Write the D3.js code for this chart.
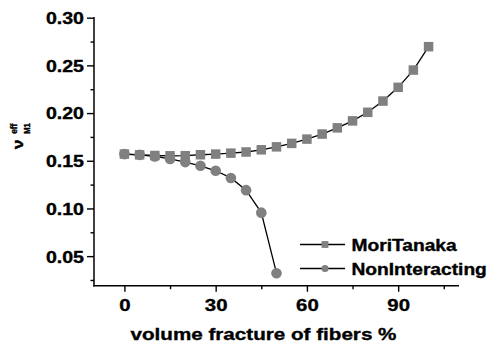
<!DOCTYPE html>
<html>
<head>
<meta charset="utf-8">
<script src="https://cdn.jsdelivr.net/npm/d3@7"></script>
<style>
  html, body { margin: 0; padding: 0; background: #fff; }
  svg text { font-family: "Liberation Sans", Arial, sans-serif; font-weight: bold; fill: #000; stroke: #000; stroke-width: 0.35px; }
</style>
</head>
<body>
<svg id="chart" width="490" height="346"></svg>
<script>
// ---- data ----
const fraction = [0, 5, 10, 15, 20, 25, 30, 35, 40, 45, 50, 55, 60, 65, 70, 75, 80, 85, 90, 95, 100];
const moriTanaka = [0.1570, 0.1562, 0.1555, 0.1552, 0.1553, 0.1563, 0.1570, 0.1580, 0.1592, 0.1615, 0.1646,
                    0.1682, 0.1727, 0.1780, 0.1845, 0.1918, 0.2008, 0.2126, 0.2270, 0.2451, 0.2696];
const fractionNI = [0, 5, 10, 15, 20, 25, 30, 35, 40, 45, 50];
const nonInteracting = [0.1570, 0.1562, 0.1545, 0.1519, 0.1486, 0.1447, 0.1395, 0.1320, 0.1192, 0.0956, 0.0321];
const xTicks = [0, 30, 60, 90];
const xMinorTicks = [15, 45, 75, 105];
const yTicks = [0.05, 0.10, 0.15, 0.20, 0.25, 0.30];
const yMinorTicks = [0.025, 0.075, 0.125, 0.175, 0.225, 0.275];
const seriesNames = ["MoriTanaka", "NonInteracting"];

// ---- layout ----
const SX = 1.2; // horizontal glyph stretch seen in the reference
const svg = d3.select("#chart");
const pLeft = 94, pRight = 459, pTop = 17.7, pBottom = 285.7;
const x = d3.scaleLinear().domain([-10, 110]).range([pLeft, pRight]);
const y = d3.scaleLinear().domain([0.019, 0.30]).range([pBottom, pTop]);
const grey = "#808080";

function stretch(sel) {
  sel.each(function () {
    const t = d3.select(this);
    const tx = +t.attr("x") || 0;
    t.attr("transform", `translate(${tx},0) scale(${SX},1) translate(${-tx},0)`);
  });
}

// ---- axes ----
const yAxis = svg.append("g").attr("transform", `translate(${pLeft},0)`)
  .call(d3.axisLeft(y).tickValues(yTicks).tickSize(7).tickPadding(3).tickFormat(d3.format(".2f")));
const yMinor = svg.append("g").attr("transform", `translate(${pLeft},0)`)
  .call(d3.axisLeft(y).tickValues(yMinorTicks).tickSize(3.5).tickFormat(""));
const xAxis = svg.append("g").attr("transform", `translate(0,${pBottom})`)
  .call(d3.axisBottom(x).tickValues(xTicks).tickSize(6).tickPadding(7));
const xMinor = svg.append("g").attr("transform", `translate(0,${pBottom})`)
  .call(d3.axisBottom(x).tickValues(xMinorTicks).tickSize(3.5).tickFormat(""));
[yMinor, xMinor].forEach(g => g.select(".domain").remove());
[yAxis, yMinor, xAxis, xMinor].forEach(g => {
  g.selectAll("line").attr("stroke", "#000").attr("stroke-width", 1.4);
  g.selectAll(".domain").attr("stroke", "#000").attr("stroke-width", 1.5)
    .attr("d", g === yAxis ? `M0,${pBottom + 0.7}V${pTop - 0.7}` : `M${pLeft - 0.7},0H${pRight}`);
});
yAxis.selectAll("text").style("font-size", "16.3px").style("font-family", null).attr("dy", "0.36em").call(stretch);
xAxis.selectAll("text").style("font-size", "17px").style("font-family", null).call(stretch);

// ---- axis titles ----
svg.append("text").attr("x", 263.5).attr("y", 340).attr("text-anchor", "middle")
  .style("font-size", "17.2px").text("volume fracture of fibers %").call(stretch);

const yl = svg.append("g").attr("transform", `translate(23.3,149.3) scale(${SX},1) rotate(-90)`)
  .style("stroke-width", "0.25px");
yl.append("text").attr("x", 0).attr("y", 0).style("font-size", "11.5px")
  .attr("textLength", 9.8).attr("lengthAdjust", "spacingAndGlyphs").text("ν");
yl.append("text").attr("x", 15.6).attr("y", -4.9).style("font-size", "8px")
  .attr("textLength", 10).attr("lengthAdjust", "spacingAndGlyphs").text("eff");
yl.append("text").attr("x", 15.6).attr("y", 5.8).style("font-size", "7px")
  .attr("textLength", 10.5).attr("lengthAdjust", "spacingAndGlyphs").text("M1");

// ---- series ----
const line = d3.line().x(d => x(d[0])).y(d => y(d[1]));
const mt = fraction.map((f, i) => [f, moriTanaka[i]]);
const ni = fractionNI.map((f, i) => [f, nonInteracting[i]]);

svg.append("path").datum(mt).attr("d", line).attr("fill", "none").attr("stroke", "#000").attr("stroke-width", 1.3);
const sq = 9.5;
svg.selectAll("rect.mt").data(mt).enter().append("rect").attr("class", "mt")
  .attr("x", d => x(d[0]) - sq / 2).attr("y", d => y(d[1]) - sq / 2)
  .attr("width", sq).attr("height", sq).attr("fill", grey);

svg.append("path").datum(ni).attr("d", line).attr("fill", "none").attr("stroke", "#000").attr("stroke-width", 1.3);
svg.selectAll("circle.ni").data(ni).enter().append("circle").attr("class", "ni")
  .attr("cx", d => x(d[0])).attr("cy", d => y(d[1])).attr("r", 5.3).attr("fill", grey);

// ---- legend ----
const legendRows = [244.5, 268.5];
seriesNames.forEach((name, i) => {
  const cy = legendRows[i];
  svg.append("line").attr("x1", 300).attr("x2", 345).attr("y1", cy).attr("y2", cy)
    .attr("stroke", "#000").attr("stroke-width", 1.3);
  if (i === 0) {
    svg.append("rect").attr("x", 325 - 3.4).attr("y", cy - 3.4).attr("width", 6.8).attr("height", 6.8).attr("fill", grey);
  } else {
    svg.append("circle").attr("cx", 325).attr("cy", cy).attr("r", 3.6).attr("fill", grey);
  }
  svg.append("text").attr("x", 351.5).attr("y", cy + 6.2).style("font-size", "16px").text(name).call(stretch);
});
</script>
</body>
</html>
